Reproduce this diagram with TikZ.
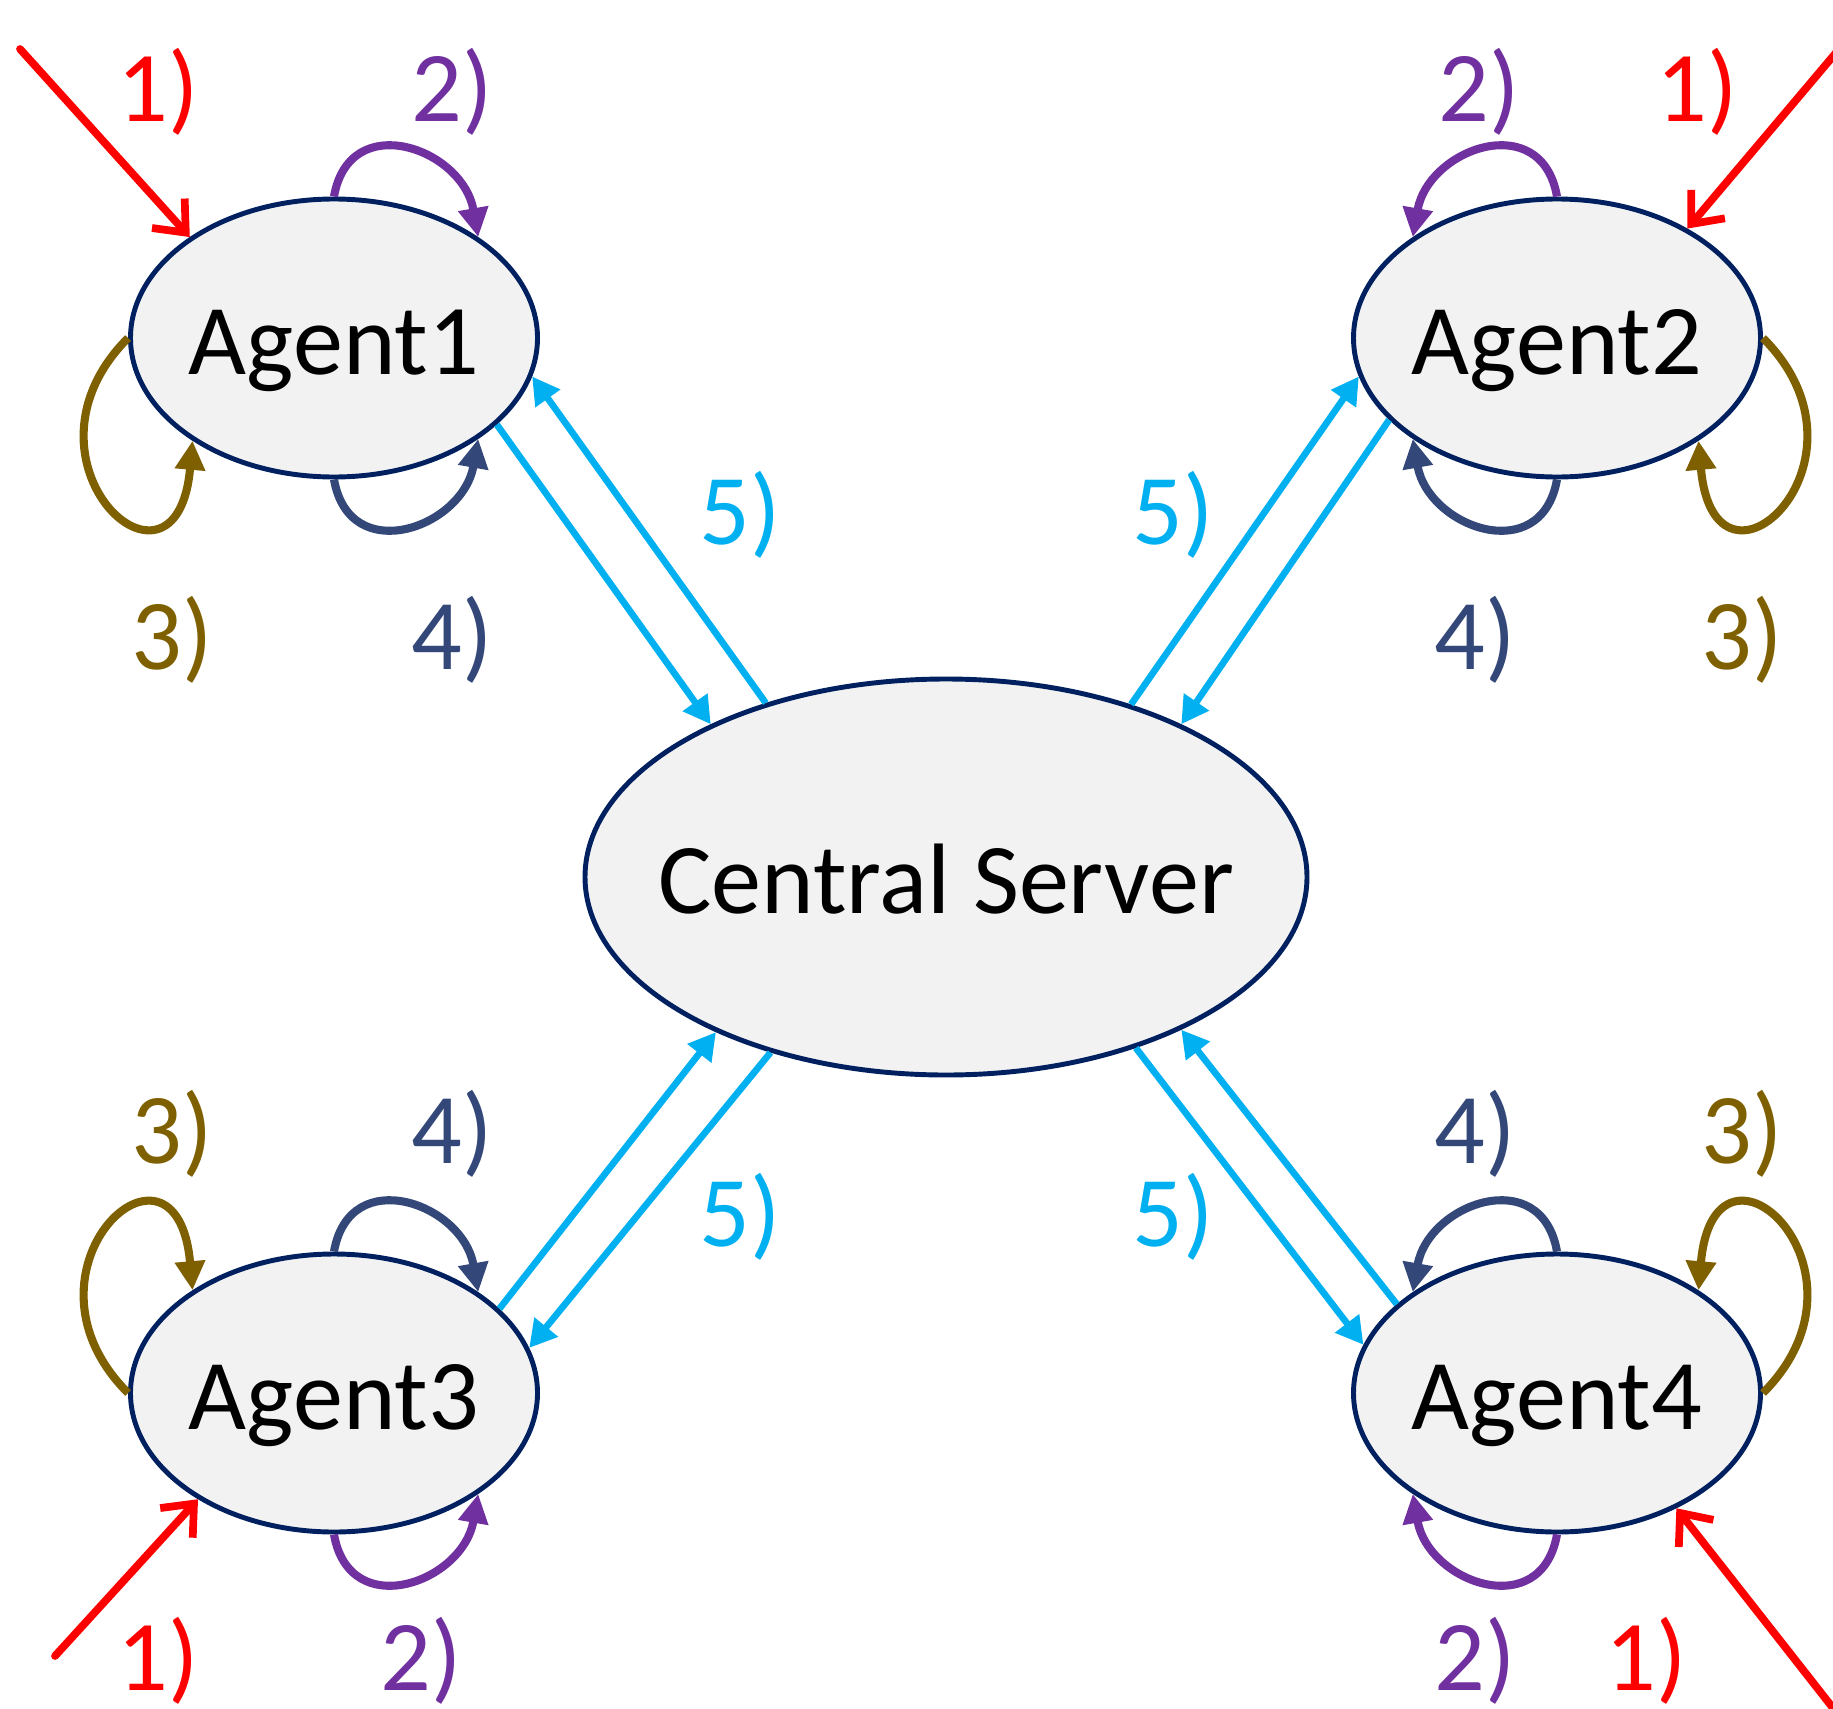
\documentclass[tikz,border=0pt]{standalone}
\usepackage{fontspec}
\setmainfont{Carlito}
\usetikzlibrary{shapes.geometric}
\usetikzlibrary{arrows.meta}
\definecolor{srvnavy}{RGB}{0,32,96}
\definecolor{boxgray}{RGB}{242,242,242}
\definecolor{stepred}{RGB}{255,0,0}
\definecolor{steppurple}{RGB}{112,48,160}
\definecolor{stepolive}{RGB}{127,96,0}
\definecolor{stepnavy}{RGB}{51,71,120}
\definecolor{stepcyan}{RGB}{0,176,240}
\tikzset{
  bigfont/.style={font=\fontsize{28.5}{34}\selectfont},
  agent/.style={ellipse, draw=srvnavy, line width=1.4pt, fill=boxgray,
    minimum width=4.07cm, minimum height=2.78cm, inner xsep=-0.6cm, inner ysep=0pt,
    text height=26.5pt, text depth=6pt, bigfont},
  server/.style={agent, minimum width=7.22cm, minimum height=3.96cm},
  steplbl/.style={anchor=base, inner sep=0pt, bigfont},
  inflow/.style={draw=stepred, line width=2.2pt, line cap=round,
    -{Straight Barb[length=2.6mm,width=4.4mm]}},
  selfloop/.style={line width=2.3pt, -{Triangle[length=2.9mm,width=2.9mm]}},
  msg/.style={draw=stepcyan, line width=1.9pt, -{Triangle[length=2.7mm,width=2.9mm]}},
}

\begin{document}
\begin{tikzpicture}
  \useasboundingbox (0,0) rectangle (18.33,-17.09);

  \node [server] (cs) at (9.46,-8.77) {Central Server};
  \node [agent] (a1) at (3.34,-3.38) {Agent1};
  \node [agent] (a2) at (15.57,-3.38) {Agent2};
  \node [agent] (a3) at (3.34,-13.93) {Agent3};
  \node [agent] (a4) at (15.57,-13.93) {Agent4};

  % step labels
  \node [steplbl, text=stepred] (a1s1) at (1.58,-1.22) {1)};
  \node [steplbl, text=steppurple] (a1s2) at (4.52,-1.22) {2)};
  \node [steplbl, text=stepolive] (a1s3) at (1.72,-6.69) {3)};
  \node [steplbl, text=stepnavy] (a1s4) at (4.52,-6.69) {4)};
  \node [steplbl, text=steppurple] (a2s2) at (14.79,-1.22) {2)};
  \node [steplbl, text=stepred] (a2s1) at (16.97,-1.22) {1)};
  \node [steplbl, text=stepnavy] (a2s4) at (14.75,-6.69) {4)};
  \node [steplbl, text=stepolive] (a2s3) at (17.42,-6.69) {3)};
  \node [steplbl, text=stepolive] (a3s3) at (1.72,-11.63) {3)};
  \node [steplbl, text=stepnavy] (a3s4) at (4.52,-11.63) {4)};
  \node [steplbl, text=stepred] (a3s1) at (1.58,-16.90) {1)};
  \node [steplbl, text=steppurple] (a3s2) at (4.21,-16.90) {2)};
  \node [steplbl, text=stepnavy] (a4s4) at (14.75,-11.63) {4)};
  \node [steplbl, text=stepolive] (a4s3) at (17.42,-11.63) {3)};
  \node [steplbl, text=steppurple] (a4s2) at (14.75,-16.90) {2)};
  \node [steplbl, text=stepred] (a4s1) at (16.46,-16.90) {1)};
  \node [steplbl, text=stepcyan] (a1s5) at (7.40,-5.44) {5)};
  \node [steplbl, text=stepcyan] (a2s5) at (11.73,-5.44) {5)};
  \node [steplbl, text=stepcyan] (a3s5) at (7.40,-12.46) {5)};
  \node [steplbl, text=stepcyan] (a4s5) at (11.73,-12.46) {5)};

  % incoming requests
  \coordinate (in1) at (0.20,-0.49);
  \coordinate (in2) at (18.40,-0.48);
  \coordinate (in3) at (0.55,-16.56);
  \coordinate (in4) at (18.40,-17.17);
  \draw [inflow] (in1) -- (a1.145);
  \draw [inflow] (in2) -- (a2.40);
  \draw [inflow] (in3) -- (a3.218);
  \draw [inflow] (in4) -- (a4.316);

  \draw [selfloop, steppurple] (a1.90) to[out=80, in=100, distance=0.9cm] (a1.35);
  \draw [selfloop, stepnavy] (a1.270) to[out=280, in=260, distance=0.9cm] (a1.325);
  \draw [selfloop, stepolive] (a1.180) to[out=225, in=265, out distance=1.75cm, in distance=1.8cm] (a1.216);

  \draw [selfloop, steppurple] (a2.90) to[out=100, in=80, distance=0.9cm] (a2.145);
  \draw [selfloop, stepnavy] (a2.270) to[out=260, in=280, distance=0.9cm] (a2.215);
  \draw [selfloop, stepolive] (a2.0) to[out=315, in=275, out distance=1.75cm, in distance=1.8cm] (a2.324);

  \draw [selfloop, stepnavy] (a3.90) to[out=80, in=100, distance=0.9cm] (a3.35);
  \draw [selfloop, steppurple] (a3.270) to[out=280, in=260, distance=0.9cm] (a3.325);
  \draw [selfloop, stepolive] (a3.180) to[out=135, in=95, out distance=1.75cm, in distance=1.8cm] (a3.144);

  \draw [selfloop, stepnavy] (a4.90) to[out=100, in=80, distance=0.9cm] (a4.145);
  \draw [selfloop, steppurple] (a4.270) to[out=260, in=280, distance=0.9cm] (a4.215);
  \draw [selfloop, stepolive] (a4.0) to[out=45, in=85, out distance=1.75cm, in distance=1.8cm] (a4.36);

  % exchange with the server
  \draw [msg] (a1.332) -- (cs.147);
  \draw [msg] (cs.136) -- (a1.349);
  \draw [msg] (cs.43.5) -- (a2.191);
  \draw [msg] (a2.206.6) -- (cs.33);
  \draw [msg] (a3.27.5) -- (cs.214);
  \draw [msg] (cs.225) -- (a3.13.4);
  \draw [msg] (cs.318.6) -- (a4.166);
  \draw [msg] (a4.151) -- (cs.327);
\end{tikzpicture}
\end{document}
